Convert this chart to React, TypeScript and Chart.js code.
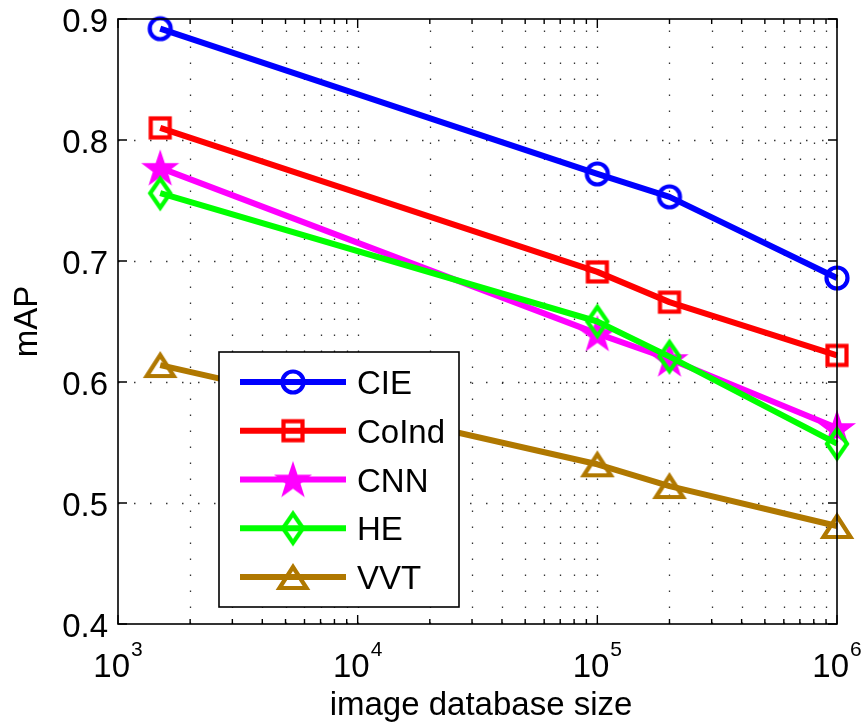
import React, { useEffect, useRef } from "react";
import { Chart, registerables } from "chart.js";
Chart.register(...registerables);

// ---- data ----
const databaseSizes = [1500, 100000, 200000, 1000000];
const seriesNames = ["CIE", "CoInd", "CNN", "HE", "VVT"];
const cieValues = [0.892, 0.772, 0.753, 0.686];
const coIndValues = [0.81, 0.691, 0.666, 0.622];
const cnnValues = [0.777, 0.64, 0.619, 0.562];
const heValues = [0.756, 0.65, 0.621, 0.549];
const vvtValues = [0.614, 0.532, 0.514, 0.481];
const seriesColors = ["#0000ff", "#ff0000", "#ff00ff", "#00ff00", "#b07800"];

const xTickValues = [
  1000, 2000, 3000, 4000, 5000, 6000, 7000, 8000, 9000,
  10000, 20000, 30000, 40000, 50000, 60000, 70000, 80000, 90000,
  100000, 200000, 300000, 400000, 500000, 600000, 700000, 800000, 900000,
  1000000,
];
const xMajorTicks = [1000, 10000, 100000, 1000000];
const xTickExponents = ["3", "4", "5", "6"];
const yTickValues = [0.4, 0.5, 0.6, 0.7, 0.8, 0.9];
const yTickLabels = ["0.4", "0.5", "0.6", "0.7", "0.8", "0.9"];
const xTitle = "image database size";
const yTitle = "mAP";

const FONT = "'Liberation Sans', Arial, Helvetica, sans-serif";

function makeCanvas(w: number, h: number, draw: (ctx: CanvasRenderingContext2D, cx: number, cy: number) => void) {
  const c = document.createElement("canvas");
  c.width = w;
  c.height = h;
  const ctx = c.getContext("2d")!;
  draw(ctx, w / 2, h / 2);
  return c;
}

function makeMarkers() {
  const lw = 4.2;
  const circle = makeCanvas(32, 32, (ctx, cx, cy) => {
    ctx.strokeStyle = seriesColors[0];
    ctx.lineWidth = lw;
    ctx.beginPath();
    ctx.arc(cx, cy, 10.5, 0, Math.PI * 2);
    ctx.stroke();
  });
  const square = makeCanvas(30, 30, (ctx, cx, cy) => {
    ctx.strokeStyle = seriesColors[1];
    ctx.lineWidth = lw;
    ctx.lineJoin = "miter";
    ctx.strokeRect(cx - 9.5, cy - 9.5, 19, 19);
  });
  const star = makeCanvas(44, 44, (ctx, cx, cy) => {
    ctx.fillStyle = seriesColors[2];
    const R = 20, r = 7.8;
    ctx.beginPath();
    for (let k = 0; k < 10; k++) {
      const a = -Math.PI / 2 + (k * Math.PI) / 5;
      const rad = k % 2 === 0 ? R : r;
      const px = cx + rad * Math.cos(a);
      const py = cy + 1.5 + rad * Math.sin(a);
      if (k === 0) ctx.moveTo(px, py);
      else ctx.lineTo(px, py);
    }
    ctx.closePath();
    ctx.fill();
  });
  const diamond = makeCanvas(34, 46, (ctx, cx, cy) => {
    ctx.strokeStyle = seriesColors[3];
    ctx.lineWidth = lw;
    ctx.lineJoin = "miter";
    ctx.beginPath();
    ctx.moveTo(cx, cy - 14.5);
    ctx.lineTo(cx + 10, cy);
    ctx.lineTo(cx, cy + 14.5);
    ctx.lineTo(cx - 10, cy);
    ctx.closePath();
    ctx.stroke();
  });
  const triangle = makeCanvas(42, 38, (ctx, cx, cy) => {
    ctx.strokeStyle = seriesColors[4];
    ctx.lineWidth = lw;
    ctx.lineJoin = "miter";
    ctx.beginPath();
    ctx.moveTo(cx, cy - 10);
    ctx.lineTo(cx + 13.5, cy + 11);
    ctx.lineTo(cx - 13.5, cy + 11);
    ctx.closePath();
    ctx.stroke();
  });
  return [circle, square, star, diamond, triangle];
}

export default function App() {
  const ref = useRef<HTMLCanvasElement | null>(null);

  useEffect(() => {
    const canvas = ref.current;
    if (!canvas) return;
    const markers = makeMarkers();
    const allValues = [cieValues, coIndValues, cnnValues, heValues, vvtValues];

    const matlabPlugin = {
      id: "matlabStyle",
      beforeDatasetsDraw(chart: any) {
        const { ctx, chartArea } = chart;
        const xs = chart.scales.x;
        const ys = chart.scales.y;
        ctx.save();
        ctx.strokeStyle = "rgba(30,30,30,0.9)";
        ctx.lineWidth = 1.3;
        ctx.setLineDash([1.5, 14.5]);
        xs.ticks.forEach((t: any) => {
          const px = Math.round(xs.getPixelForValue(t.value)) + 0.5;
          if (px <= chartArea.left + 1 || px >= chartArea.right - 1) return;
          ctx.beginPath();
          ctx.moveTo(px, chartArea.bottom);
          ctx.lineTo(px, chartArea.top);
          ctx.stroke();
        });
        ys.ticks.forEach((t: any) => {
          const py = Math.round(ys.getPixelForValue(t.value)) + 0.5;
          if (py <= chartArea.top + 1 || py >= chartArea.bottom - 1) return;
          ctx.beginPath();
          ctx.moveTo(chartArea.left, py);
          ctx.lineTo(chartArea.right, py);
          ctx.stroke();
        });
        ctx.restore();
      },
      afterDatasetsDraw(chart: any) {
        const { ctx, chartArea } = chart;
        const xs = chart.scales.x;
        const ys = chart.scales.y;
        const { left, right, top, bottom } = chartArea;
        ctx.save();
        // box
        ctx.strokeStyle = "#000";
        ctx.lineWidth = 1.6;
        ctx.setLineDash([]);
        ctx.strokeRect(left, top, right - left, bottom - top);
        // ticks
        ctx.lineWidth = 1.4;
        xs.ticks.forEach((t: any) => {
          const px = xs.getPixelForValue(t.value);
          const len = xMajorTicks.includes(t.value) ? 9 : 5;
          ctx.beginPath();
          ctx.moveTo(px, bottom);
          ctx.lineTo(px, bottom - len);
          ctx.moveTo(px, top);
          ctx.lineTo(px, top + len);
          ctx.stroke();
        });
        ys.ticks.forEach((t: any) => {
          const py = ys.getPixelForValue(t.value);
          ctx.beginPath();
          ctx.moveTo(left, py);
          ctx.lineTo(left + 9, py);
          ctx.moveTo(right, py);
          ctx.lineTo(right - 9, py);
          ctx.stroke();
        });
        ctx.restore();
      },
      afterDraw(chart: any) {
        const { ctx } = chart;
        const xs = chart.scales.x;
        const ys = chart.scales.y;
        ctx.save();
        // legend
        const bx = 219, by = 352, bw = 240, bh = 255;
        ctx.fillStyle = "#fff";
        ctx.fillRect(bx, by, bw, bh);
        ctx.strokeStyle = "#000";
        ctx.lineWidth = 1.6;
        ctx.strokeRect(bx, by, bw, bh);
        seriesNames.forEach((name, i) => {
          const ry = 382 + i * 48.75;
          ctx.strokeStyle = seriesColors[i];
          ctx.lineWidth = 6;
          ctx.lineCap = "butt";
          ctx.beginPath();
          ctx.moveTo(240, ry);
          ctx.lineTo(346, ry);
          ctx.stroke();
          const m = markers[i];
          ctx.drawImage(m, 293 - m.width / 2, ry - m.height / 2);
          ctx.fillStyle = "#000";
          ctx.font = `33px ${FONT}`;
          ctx.textAlign = "left";
          ctx.textBaseline = "alphabetic";
          ctx.fillText(name, 357, ry + 12);
        });

        // y tick labels
        ctx.fillStyle = "#000";
        ctx.font = `33px ${FONT}`;
        ctx.textAlign = "right";
        ctx.textBaseline = "alphabetic";
        ys.ticks.forEach((t: any, i: number) => {
          const py = ys.getPixelForValue(t.value);
          ctx.fillText(yTickLabels[i], 108, py + 13);
        });

        // x tick labels (10^n)
        ctx.textAlign = "left";
        xMajorTicks.forEach((v, i) => {
          const px = xs.getPixelForValue(v);
          ctx.font = `33px ${FONT}`;
          const wBase = ctx.measureText("10").width;
          ctx.font = `21px ${FONT}`;
          const wExp = ctx.measureText(xTickExponents[i]).width;
          const total = wBase + 1 + wExp;
          const sx = px - total / 2;
          ctx.font = `33px ${FONT}`;
          ctx.fillText("10", sx, 677);
          ctx.font = `21px ${FONT}`;
          ctx.fillText(xTickExponents[i], sx + wBase + 1, 656);
        });

        // axis titles
        ctx.font = `33px ${FONT}`;
        ctx.textAlign = "center";
        ctx.fillText(xTitle, 481, 715);
        ctx.translate(37, 321.5);
        ctx.rotate(-Math.PI / 2);
        ctx.fillText(yTitle, 0, 0);
        ctx.restore();
      },
    };

    const chart = new Chart(canvas, {
      type: "line",
      data: {
        datasets: seriesNames.map((name, i) => ({
          label: name,
          data: databaseSizes.map((x, j) => ({ x, y: allValues[i][j] })),
          borderColor: seriesColors[i],
          backgroundColor: seriesColors[i],
          borderWidth: 6,
          borderJoinStyle: "round" as const,
          pointStyle: markers[i] as any,
          pointRadius: 12,
          pointHoverRadius: 12,
          fill: false,
          tension: 0,
          clip: false as any,
          order: 5 - i,
        })),
      },
      options: {
        animation: false,
        responsive: false,
        events: [],
        layout: { padding: { top: 19, right: 27, left: 0, bottom: 0 } },
        plugins: {
          legend: { display: false },
          tooltip: { enabled: false },
          title: { display: false },
        },
        scales: {
          x: {
            type: "logarithmic",
            min: 1000,
            max: 1000000,
            grid: { display: false },
            border: { display: false },
            ticks: { display: false },
            afterBuildTicks: (scale: any) => {
              scale.ticks = xTickValues.map((v) => ({ value: v }));
            },
            afterFit: (scale: any) => {
              scale.height = 104;
            },
          },
          y: {
            type: "linear",
            min: 0.4,
            max: 0.9,
            grid: { display: false },
            border: { display: false },
            ticks: { display: false },
            afterBuildTicks: (scale: any) => {
              scale.ticks = yTickValues.map((v) => ({ value: v }));
            },
            afterFit: (scale: any) => {
              scale.width = 118;
            },
          },
        },
      },
      plugins: [matlabPlugin],
    });
    return () => chart.destroy();
  }, []);

  return (
    <div style={{ position: "absolute", left: 0, top: 0, width: 864, height: 728, background: "#fff" }}>
      <canvas ref={ref} width={864} height={728} style={{ display: "block", width: 864, height: 728 }} />
    </div>
  );
}
